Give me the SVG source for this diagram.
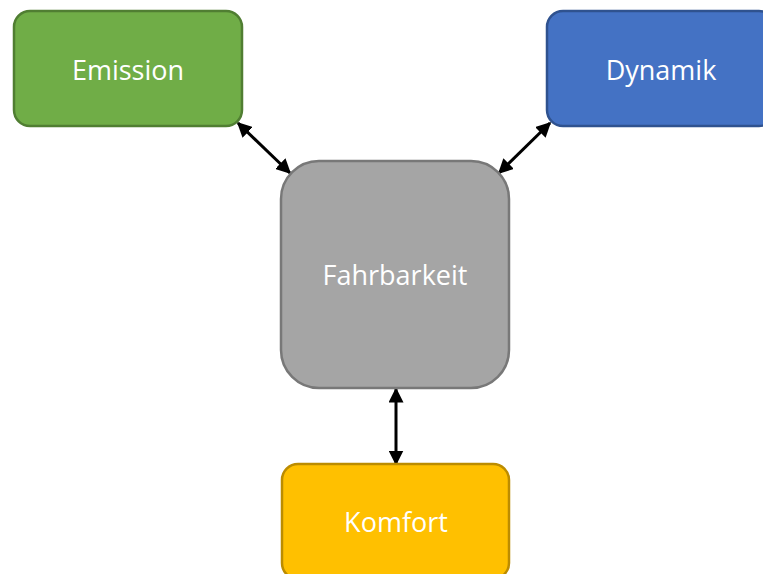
<svg xmlns="http://www.w3.org/2000/svg" width="763" height="574" viewBox="0 0 763 574">
  <style>
    .box { stroke-width: 2.5; }
    .label { font-family: "Open Sans", "Noto Sans", sans-serif; font-size: 27px; fill: #ffffff; text-anchor: middle; dominant-baseline: central; }
    .link { stroke: #000000; stroke-width: 3; fill: none; marker-start: url(#head); marker-end: url(#head); }
  </style>
  <defs>
    <marker id="head" viewBox="0 0 10 10" refX="9" refY="5" markerWidth="5" markerHeight="5" orient="auto-start-reverse" markerUnits="strokeWidth">
      <path d="M0,0 L10,5 L0,10 Z" fill="#000000"/>
    </marker>
  </defs>
  <rect width="763" height="574" fill="#ffffff"/>

  <g id="connectors">
    <line class="link" x1="238" y1="123" x2="290" y2="173"/>
    <line class="link" x1="550" y1="123" x2="499" y2="173"/>
    <line class="link" x1="396" y1="389" x2="396" y2="464"/>
  </g>

  <g id="emission">
    <rect class="box" x="14" y="11" width="228" height="115" rx="16" fill="#70ad47" stroke="#507e32"/>
    <text class="label" x="128" y="69">Emission</text>
  </g>

  <g id="dynamik">
    <rect class="box" x="547" y="11" width="228" height="115" rx="16" fill="#4472c4" stroke="#2f528f"/>
    <text class="label" x="661" y="69">Dynamik</text>
  </g>

  <g id="fahrbarkeit">
    <rect class="box" x="281" y="161" width="228" height="227" rx="38" fill="#a5a5a5" stroke="#787878"/>
    <text class="label" x="395" y="274">Fahrbarkeit</text>
  </g>

  <g id="komfort">
    <rect class="box" x="282" y="464" width="227" height="115" rx="16" fill="#ffc000" stroke="#bc8c00"/>
    <text class="label" x="396" y="521">Komfort</text>
  </g>
</svg>
